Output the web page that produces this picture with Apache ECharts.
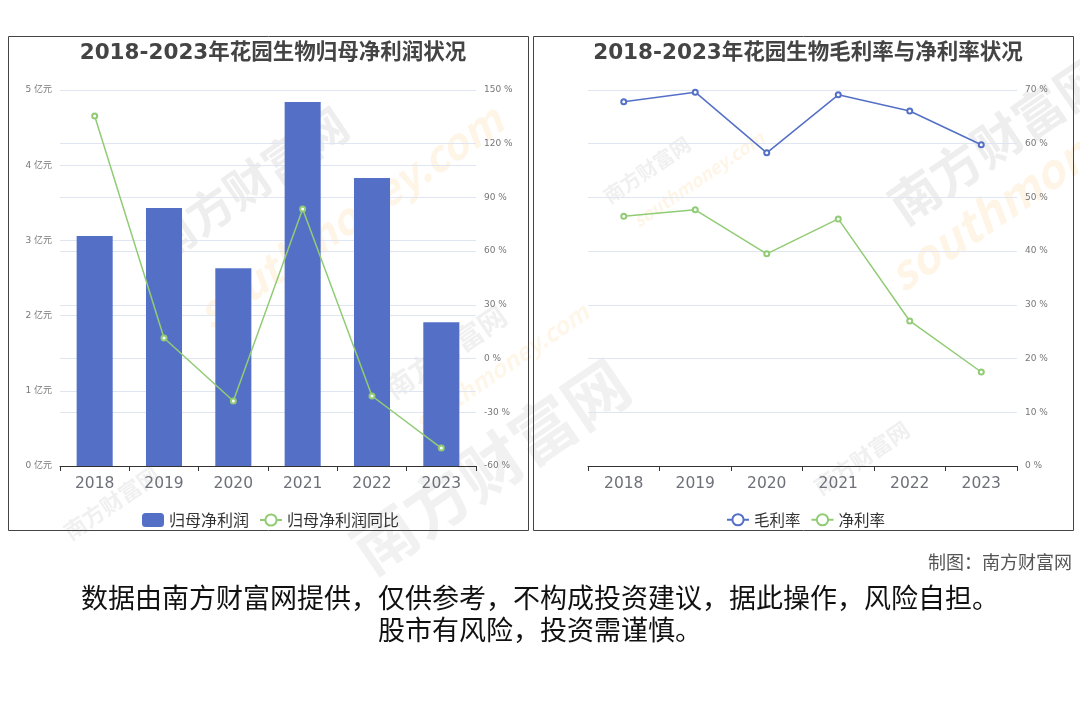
<!DOCTYPE html>
<html><head><meta charset="utf-8">
<script src="https://cdn.jsdelivr.net/npm/echarts@6/dist/echarts.min.js"></script>
<style>html,body{margin:0;padding:0;background:#fff;}#c{width:1080px;height:720px;}</style>
</head><body><div id="c"></div>
<script>
const years = ['2018','2019','2020','2021','2022','2023'];
const netProfit = [3.06, 3.43, 2.63, 4.84, 3.83, 1.91];      // 亿元
const netProfitYoY = [135.5, 11.5, -23.7, 83.5, -20.9, -50.0]; // %
const grossMargin = [67.8, 69.6, 58.3, 69.1, 66.1, 59.8];     // %
const netMargin = [46.5, 47.7, 39.5, 46.0, 27.0, 17.5];       // %

const FONT = '"DejaVu Sans", "Noto Sans CJK SC", sans-serif';
const CJK = '"Noto Sans CJK SC", sans-serif';
const chart = echarts.init(document.getElementById('c'));

const wm = [];
function addWm(x, y, text, size, color, rot, op, italic) {
  wm.push({type:'text', x:x, y:y, rotation:rot, silent:true, z:-1,
    style:{text:text, font:(italic?'italic ':'')+'bold '+size+'px '+CJK, fill:color, opacity:op}});
}
addWm(140, 230, '南方财富网', 46, '#777', 0.6, 0.12);
addWm(190, 300, 'southmoney.com', 42, '#f6a623', 0.6, 0.11, true);
addWm(600, 190, '南方财富网', 20, '#777', 0.6, 0.11);
addWm(630, 215, 'southmoney.com', 18, '#f6a623', 0.6, 0.11, true);
addWm(380, 380, '南方财富网', 28, '#777', 0.6, 0.11);
addWm(410, 415, 'southmoney.com', 24, '#f6a623', 0.6, 0.10, true);
addWm(340, 530, '南方财富网', 64, '#777', 0.6, 0.10);
addWm(880, 190, '南方财富网', 50, '#777', 0.6, 0.12);
addWm(880, 260, 'southmoney.com', 46, '#f6a623', 0.6, 0.11, true);
addWm(810, 480, '南方财富网', 22, '#777', 0.6, 0.11);
addWm(60, 525, '南方财富网', 22, '#777', 0.6, 0.11);

chart.setOption({
  animation: false,
  textStyle: {fontFamily: FONT},
  title: [
    {text:'2018-2023年花园生物归母净利润状况', left:268, top:38, textAlign:'center',
     textStyle:{fontSize:21.5, fontWeight:'bold', color:'#444', fontFamily:FONT}},
    {text:'2018-2023年花园生物毛利率与净利率状况', left:803, top:38, textAlign:'center',
     textStyle:{fontSize:21.5, fontWeight:'bold', color:'#444', fontFamily:FONT}}
  ],
  legend: [
    {data:['归母净利润','归母净利润同比'], left:137, top:507, itemWidth:22, itemHeight:14, itemGap:10,
     textStyle:{fontSize:16, color:'#333', fontFamily:CJK}},
    {data:['毛利率','净利率'], left:721, top:507, itemWidth:22, itemHeight:14, itemGap:10,
     textStyle:{fontSize:15.5, color:'#333', fontFamily:CJK}}
  ],
  grid: [
    {left:60, width:416, top:90, height:376},
    {left:588, width:429, top:90, height:376}
  ],
  xAxis: [
    {type:'category', gridIndex:0, data:years,
     axisLine:{lineStyle:{color:'#333'}}, axisTick:{show:true, lineStyle:{color:'#333'}},
     axisLabel:{fontSize:15.5, color:'#6e7079', margin:10, fontFamily:FONT}},
    {type:'category', gridIndex:1, data:years,
     axisLine:{lineStyle:{color:'#333'}}, axisTick:{show:true, lineStyle:{color:'#333'}},
     axisLabel:{fontSize:15.5, color:'#6e7079', margin:10, fontFamily:FONT}}
  ],
  yAxis: [
    {type:'value', gridIndex:0, min:0, max:5, interval:1, position:'left',
     axisLabel:{formatter:'{value} 亿元', fontSize:9, color:'#777', fontFamily:FONT},
     splitLine:{lineStyle:{color:'#E0E6F1'}}},
    {type:'value', gridIndex:0, min:-60, max:150, interval:30, position:'right',
     axisLabel:{formatter:'{value} %', fontSize:9, color:'#777', fontFamily:FONT},
     splitLine:{lineStyle:{color:'#E0E6F1'}}},
    {type:'value', gridIndex:1, min:0, max:70, interval:10, position:'right',
     axisLabel:{formatter:'{value} %', fontSize:9, color:'#777', fontFamily:FONT},
     splitLine:{lineStyle:{color:'#E0E6F1'}}}
  ],
  series: [
    {name:'归母净利润', type:'bar', xAxisIndex:0, yAxisIndex:0, data:netProfit, barWidth:'52%',
     itemStyle:{color:'#5470c6'}},
    {name:'归母净利润同比', type:'line', xAxisIndex:0, yAxisIndex:1, data:netProfitYoY,
     symbol:'emptyCircle', symbolSize:5, itemStyle:{color:'#91cc75'}, lineStyle:{width:1.5, color:'#91cc75'}},
    {name:'毛利率', type:'line', xAxisIndex:1, yAxisIndex:2, data:grossMargin,
     symbol:'emptyCircle', symbolSize:5, itemStyle:{color:'#5470c6'}, lineStyle:{width:1.5, color:'#5470c6'}},
    {name:'净利率', type:'line', xAxisIndex:1, yAxisIndex:2, data:netMargin,
     symbol:'emptyCircle', symbolSize:5, itemStyle:{color:'#91cc75'}, lineStyle:{width:1.5, color:'#91cc75'}}
  ],
  graphic: wm.concat([
    {type:'rect', shape:{x:8.5, y:36.5, width:520, height:494}, silent:true,
     style:{fill:null, stroke:'#444', lineWidth:1}},
    {type:'rect', shape:{x:533.5, y:36.5, width:540, height:494}, silent:true,
     style:{fill:null, stroke:'#444', lineWidth:1}},
    {type:'text', x:1072, y:562, style:{text:'制图：南方财富网', font:'18px '+CJK, fill:'#555', textAlign:'right', textVerticalAlign:'middle'}},
    {type:'text', x:540, y:598, style:{text:'数据由南方财富网提供，仅供参考，不构成投资建议，据此操作，风险自担。', font:'27px '+CJK, fill:'#111', textAlign:'center', textVerticalAlign:'middle'}},
    {type:'text', x:540, y:630, style:{text:'股市有风险，投资需谨慎。', font:'27px '+CJK, fill:'#111', textAlign:'center', textVerticalAlign:'middle'}}
  ])
});
</script></body></html>
